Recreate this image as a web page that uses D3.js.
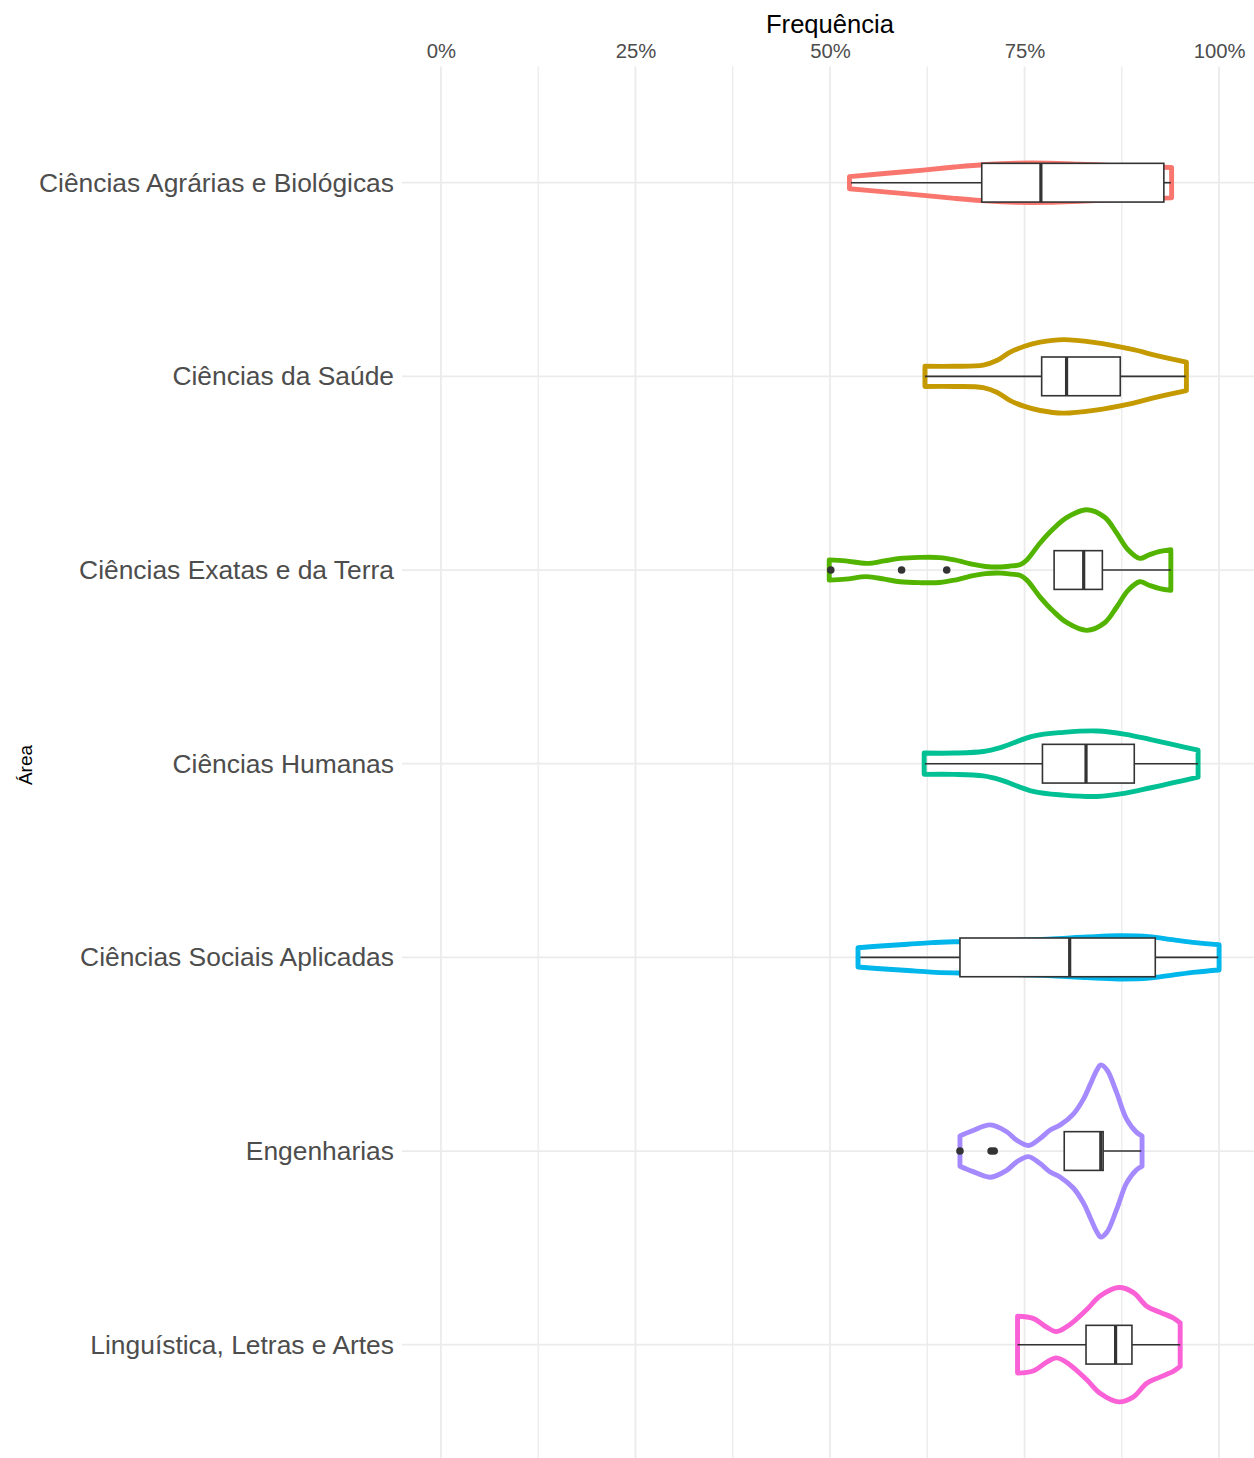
<!DOCTYPE html>
<html>
<head>
<meta charset="utf-8">
<script src="https://cdn.jsdelivr.net/npm/d3@7/dist/d3.min.js"></script>
<style>
  html, body { margin: 0; padding: 0; background: #ffffff; }
  svg { display: block; font-family: "Liberation Sans", Arial, Helvetica, sans-serif; }
</style>
</head>
<body>
<svg id="chart" width="1254" height="1458"></svg>
<script>
// ---------------- data ----------------
const categories = [
  "Ciências Agrárias e Biológicas",
  "Ciências da Saúde",
  "Ciências Exatas e da Terra",
  "Ciências Humanas",
  "Ciências Sociais Aplicadas",
  "Engenharias",
  "Linguística, Letras e Artes"
];
const colors = ["#F8766D", "#C49A00", "#53B400", "#00C094", "#00B6EB", "#A58AFF", "#FB61D7"];

// violin outlines: values (%) and relative density (1 = widest violin)
const violinValues = [
  [52.5, 57, 62, 66, 70, 74, 78, 82, 86, 90, 93.9],
  [62.2, 66, 69.7, 71.5, 73.1, 75, 77, 80, 83.9, 89, 92, 95.8],
  [49.9, 52, 54.7, 57, 59, 61.5, 64.1, 66, 68.4, 70, 71.9, 73.3, 74.4, 75.3, 77, 78.7, 80.4, 83, 85.3, 86.8, 88.3, 89.8, 91, 92.4, 93.8],
  [62.1, 66, 69.7, 71.9, 76.1, 80, 84.3, 88, 91.1, 94, 97.3],
  [53.6, 57, 60, 63, 66.5, 72, 78, 83, 87, 91, 94, 97, 100],
  [66.7, 68.3, 70.6, 72.7, 74, 75.5, 77, 78.3, 79.6, 81.3, 82.6, 83.4, 84.3, 84.8, 85.6, 86.8, 88.1, 89.4, 90.1],
  [74.1, 76.1, 77.7, 79.1, 80.8, 83, 84.7, 87.1, 89, 90.7, 92.4, 94.1, 95]
];
const violinDensity = [
  [0.07, 0.105, 0.145, 0.18, 0.209, 0.225, 0.225, 0.213, 0.198, 0.184, 0.174],
  [0.116, 0.116, 0.13, 0.185, 0.275, 0.345, 0.392, 0.422, 0.39, 0.306, 0.238, 0.163],
  [0.116, 0.105, 0.076, 0.105, 0.134, 0.145, 0.143, 0.116, 0.064, 0.041, 0.035, 0.047, 0.06, 0.116, 0.31, 0.473, 0.601, 0.692, 0.605, 0.43, 0.233, 0.134, 0.174, 0.213, 0.233],
  [0.122, 0.122, 0.14, 0.185, 0.317, 0.36, 0.376, 0.337, 0.279, 0.221, 0.155],
  [0.11, 0.134, 0.151, 0.169, 0.18, 0.192, 0.209, 0.233, 0.248, 0.238, 0.203, 0.169, 0.145],
  [0.174, 0.233, 0.3, 0.221, 0.124, 0.064, 0.144, 0.241, 0.3, 0.427, 0.601, 0.756, 0.93, 0.988, 0.93, 0.679, 0.369, 0.214, 0.174],
  [0.326, 0.302, 0.209, 0.151, 0.229, 0.403, 0.558, 0.656, 0.598, 0.442, 0.372, 0.307, 0.249]
];

// boxplot statistics (%)
const whiskerLow  = [52.7, 62.2, 78.8, 62.2, 53.9, 80.1, 74.1];
const q1          = [69.5, 77.2, 78.8, 77.3, 66.7, 80.1, 82.9];
const medians     = [77.1, 80.4, 82.6, 82.9, 80.8, 84.8, 86.7];
const q3          = [92.9, 87.3, 85.0, 89.1, 91.8, 85.1, 88.8];
const whiskerHigh = [93.8, 95.7, 93.8, 97.3, 99.9, 90.0, 95.0];
const outliers    = [[], [], [50.1, 59.2, 65.0], [], [], [66.7, 70.7, 71.1], []];

const xTicks = [0, 25, 50, 75, 100];
const xMinorTicks = [12.5, 37.5, 62.5, 87.5];
const xTickLabels = ["0%", "25%", "50%", "75%", "100%"];
const xTitle = "Frequência";
const yTitle = "Área";

// ---------------- layout ----------------
const svg = d3.select("#chart");
const panel = { left: 402, right: 1258, top: 66.5, bottom: 1460.9 };

const x = d3.scaleLinear().domain([-5, 105]).range([panel.left, panel.right]);
const y = d3.scalePoint().domain(categories).range([panel.top, panel.bottom]).padding(0.6);
const w = d3.scaleLinear().domain([0, 1]).range([0, 0.45 * y.step()]);
const boxHalf = 0.1 * y.step();

const gridColor = "#EBEBEB";
const grid = svg.append("g");
grid.selectAll("line.minor").data(xMinorTicks).join("line")
  .attr("x1", d => x(d)).attr("x2", d => x(d))
  .attr("y1", panel.top).attr("y2", 1458)
  .attr("stroke", gridColor).attr("stroke-width", 1.3);
grid.selectAll("line.major").data(xTicks).join("line")
  .attr("x1", d => x(d)).attr("x2", d => x(d))
  .attr("y1", panel.top).attr("y2", 1458)
  .attr("stroke", gridColor).attr("stroke-width", 1.8);
grid.selectAll("line.hy").data(categories).join("line")
  .attr("x1", panel.left).attr("x2", 1254)
  .attr("y1", d => y(d)).attr("y2", d => y(d))
  .attr("stroke", gridColor).attr("stroke-width", 1.8);

// violins
const area = d3.area()
  .x(d => x(d.v))
  .y0(d => d.cy - w(d.d))
  .y1(d => d.cy + w(d.d))
  .curve(d3.curveCatmullRom.alpha(0.5));

svg.append("g").selectAll("path").data(categories).join("path")
  .attr("d", (c, i) => area(violinValues[i].map((v, j) => ({ v, d: violinDensity[i][j], cy: y(c) }))))
  .attr("fill", "none")
  .attr("stroke", (c, i) => colors[i])
  .attr("stroke-width", 4.9)
  .attr("stroke-linejoin", "round");

// boxplots
const boxColor = "#333333";
const bg = svg.append("g");
bg.selectAll("line.wl").data(categories).join("line")
  .attr("x1", (c, i) => x(whiskerLow[i])).attr("x2", (c, i) => x(q1[i]))
  .attr("y1", c => y(c)).attr("y2", c => y(c))
  .attr("stroke", boxColor).attr("stroke-width", 1.6);
bg.selectAll("line.wh").data(categories).join("line")
  .attr("x1", (c, i) => x(q3[i])).attr("x2", (c, i) => x(whiskerHigh[i]))
  .attr("y1", c => y(c)).attr("y2", c => y(c))
  .attr("stroke", boxColor).attr("stroke-width", 1.6);
bg.selectAll("rect").data(categories).join("rect")
  .attr("x", (c, i) => x(q1[i]))
  .attr("width", (c, i) => x(q3[i]) - x(q1[i]))
  .attr("y", c => y(c) - boxHalf)
  .attr("height", 2 * boxHalf)
  .attr("fill", "#ffffff")
  .attr("stroke", boxColor).attr("stroke-width", 1.6);
bg.selectAll("line.med").data(categories).join("line")
  .attr("x1", (c, i) => x(medians[i])).attr("x2", (c, i) => x(medians[i]))
  .attr("y1", c => y(c) - boxHalf).attr("y2", c => y(c) + boxHalf)
  .attr("stroke", boxColor).attr("stroke-width", 3.2);
const outPts = [];
categories.forEach((c, i) => outliers[i].forEach(v => outPts.push({ c, v })));
bg.selectAll("circle").data(outPts).join("circle")
  .attr("cx", d => x(d.v)).attr("cy", d => y(d.c))
  .attr("r", 3.8).attr("fill", boxColor);

// x axis (top)
const xAxis = svg.append("g").attr("transform", "translate(0,58.3)")
  .call(d3.axisTop(x).tickValues(xTicks).tickFormat((d, i) => xTickLabels[i]).tickSize(0).tickPadding(0));
xAxis.select(".domain").remove();
xAxis.selectAll("text").attr("font-size", "20.3px").attr("fill", "#4D4D4D")
  .attr("font-family", "'Liberation Sans', Arial, sans-serif");

// y axis (category labels)
const yAxis = svg.append("g").attr("transform", "translate(394,0)")
  .call(d3.axisLeft(y).tickSize(0).tickPadding(0));
yAxis.select(".domain").remove();
yAxis.selectAll("text").attr("font-size", "26.4px").attr("fill", "#4D4D4D")
  .attr("font-family", "'Liberation Sans', Arial, sans-serif");

// titles
svg.append("text").attr("x", (panel.left + panel.right) / 2).attr("y", 33.3)
  .attr("text-anchor", "middle").attr("font-size", "25.6px").attr("fill", "#000000")
  .text(xTitle);
svg.append("text").attr("transform", "translate(31.5,765) rotate(-90)")
  .attr("text-anchor", "middle").attr("font-size", "19px").attr("fill", "#000000")
  .text(yTitle);
</script>
</body>
</html>
